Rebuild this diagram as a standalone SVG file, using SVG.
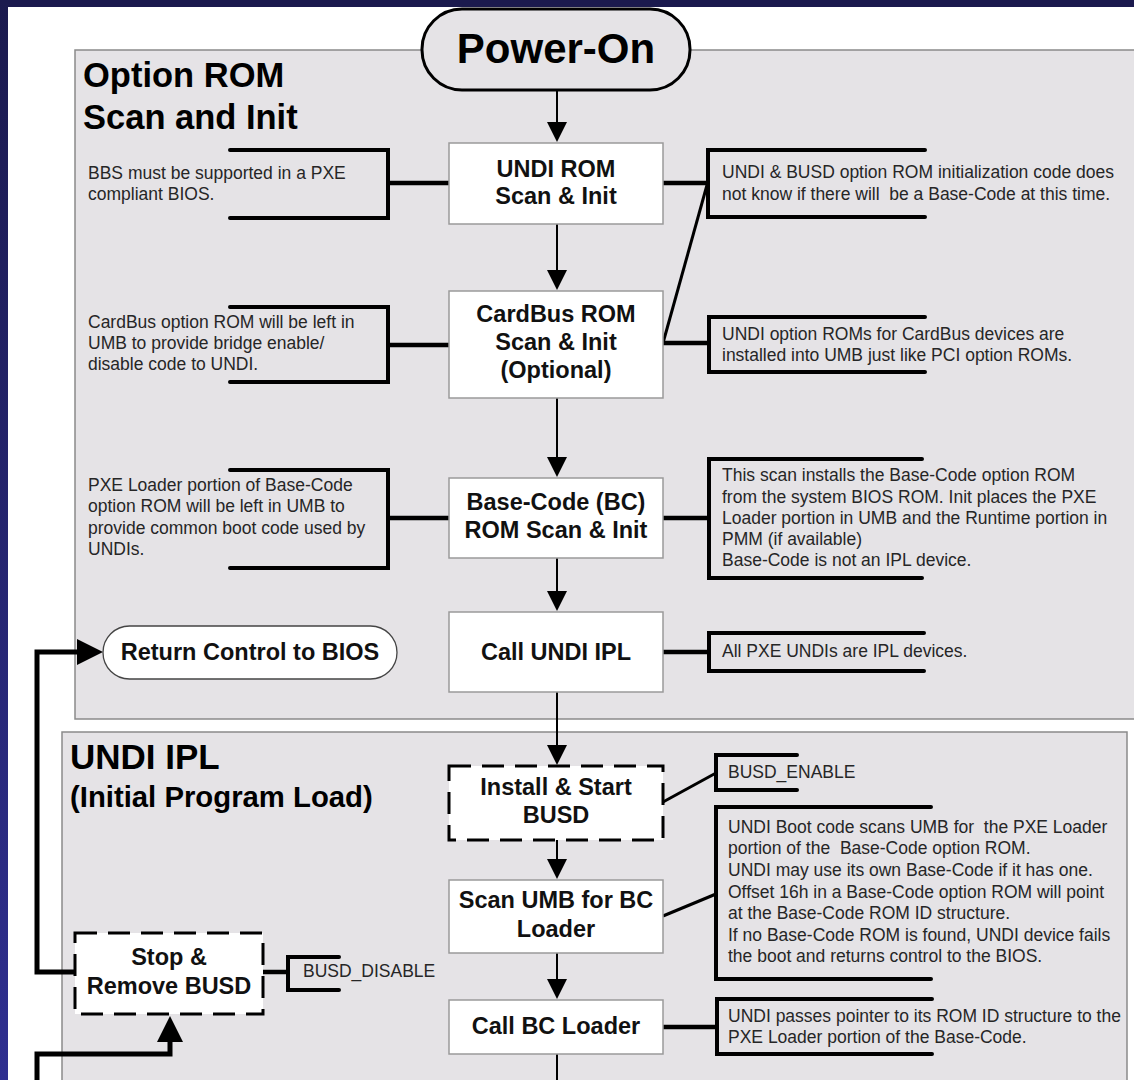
<svg xmlns="http://www.w3.org/2000/svg" width="1134" height="1080" viewBox="0 0 1134 1080">
  <defs>
    <linearGradient id="sideGrad" x1="0" y1="0" x2="0" y2="1">
      <stop offset="0" stop-color="#1b1a4e"/>
      <stop offset="1" stop-color="#2f2f90"/>
    </linearGradient>
    <marker id="ah" viewBox="0 0 20 20" refX="1" refY="10" markerWidth="20" markerHeight="20" markerUnits="userSpaceOnUse" orient="auto">
      <path d="M0,0 L20,10 L0,20 Z" fill="#000"/>
    </marker>
    <marker id="ahb" viewBox="0 0 26 26" refX="1" refY="13" markerWidth="26" markerHeight="26" markerUnits="userSpaceOnUse" orient="auto">
      <path d="M0,0 L26,13 L0,26 Z" fill="#000"/>
    </marker>
    <style>
      .section { fill: #e5e3e6; stroke: #8a8a8a; stroke-width: 1.5; }
      .box { fill: #ffffff; stroke: #9a9a9a; stroke-width: 1.5; }
      .dbox { fill: #ffffff; stroke: #000; stroke-width: 3; stroke-dasharray: 22 11; }
      .btxt { font-family: "Liberation Sans", Arial, sans-serif; font-weight: bold; font-size: 23.5px; fill: #111; text-anchor: middle; }
      .note { font-family: "Liberation Sans", Arial, sans-serif; font-size: 17.5px; fill: #262626; white-space: pre; }
      .title { font-family: "Liberation Sans", Arial, sans-serif; font-weight: bold; fill: #000; }
      .flow { fill: none; stroke: #000; stroke-width: 2; }
      .brk { fill: none; stroke: #000; stroke-width: 4; stroke-linecap: round; stroke-linejoin: miter; }
      .stub { fill: none; stroke: #000; stroke-width: 4.5; }
      .diag { fill: none; stroke: #000; stroke-width: 3; }
      .fb { fill: none; stroke: #000; stroke-width: 5; }
    </style>
  </defs>

  <!-- frame -->
  <rect x="0" y="0" width="1134" height="1080" fill="#ffffff"/>
  <rect x="0" y="0" width="1134" height="7" fill="#1b1a4e"/>
  <rect x="0" y="0" width="8" height="1080" fill="url(#sideGrad)"/>

  <!-- sections -->
  <g id="section-option-rom">
    <rect class="section" x="75" y="50" width="1075" height="669"/>
    <text class="title" x="83" y="87" font-size="34.5">Option ROM</text>
    <text class="title" x="83" y="129" font-size="34.5">Scan and Init</text>
  </g>
  <g id="section-undi-ipl">
    <rect class="section" x="62" y="732" width="1065" height="400"/>
    <text class="title" x="70" y="769" font-size="35">UNDI IPL</text>
    <text class="title" x="70" y="807" font-size="29.3">(Initial Program Load)</text>
  </g>

  <!-- connectors -->
  <g id="connectors">
    <path class="flow" d="M557,90 V123" marker-end="url(#ah)"/>
    <path class="flow" d="M557,224 V271" marker-end="url(#ah)"/>
    <path class="flow" d="M557,398 V458" marker-end="url(#ah)"/>
    <path class="flow" d="M557,558 V592" marker-end="url(#ah)"/>
    <path class="flow" d="M557,692 V746" marker-end="url(#ah)"/>
    <path class="flow" d="M557,840 V860" marker-end="url(#ah)"/>
    <path class="flow" d="M557,953 V980" marker-end="url(#ah)"/>
    <path class="flow" d="M557,1054 V1080"/>
    <path class="fb" d="M75,972 H37 V652 H78" marker-end="url(#ahb)"/>
    <path class="fb" d="M37,1082 V1054 H170 V1041" marker-end="url(#ahb)"/>

    <path class="stub" d="M388,183 H449"/>
    <path class="stub" d="M388,345 H449"/>
    <path class="stub" d="M388,518 H449"/>
    <path class="stub" d="M663,183 H708"/>
    <path class="diag" d="M707,185 L663,343"/>
    <path class="stub" d="M663,343 H709"/>
    <path class="stub" d="M663,518 H709"/>
    <path class="stub" d="M663,652 H709"/>
    <path class="diag" d="M663,802 L716,773"/>
    <path class="diag" d="M663,916 L716,894"/>
    <path class="stub" d="M663,1027 H717"/>
    <path class="stub" d="M263,972 H288"/>
  </g>

  <!-- flow nodes -->
  <g id="power-on">
    <rect x="422" y="9" width="268" height="81" rx="40" ry="40" fill="#e5e3e6" stroke="#000" stroke-width="3"/>
    <text class="title" x="556" y="63" font-size="42" text-anchor="middle">Power-On</text>
  </g>
  <g id="undi-rom-scan">
    <rect class="box" x="449" y="143" width="214" height="81"/>
    <text class="btxt" x="556" y="177">UNDI ROM</text>
    <text class="btxt" x="556" y="204">Scan &amp; Init</text>
  </g>
  <g id="cardbus-rom-scan">
    <rect class="box" x="449" y="291" width="214" height="107"/>
    <text class="btxt" x="556" y="322">CardBus ROM</text>
    <text class="btxt" x="556" y="350">Scan &amp; Init</text>
    <text class="btxt" x="556" y="378">(Optional)</text>
  </g>
  <g id="base-code-rom-scan">
    <rect class="box" x="449" y="478" width="214" height="80"/>
    <text class="btxt" x="556" y="510">Base-Code (BC)</text>
    <text class="btxt" x="556" y="538">ROM Scan &amp; Init</text>
  </g>
  <g id="call-undi-ipl">
    <rect class="box" x="449" y="612" width="214" height="80"/>
    <text class="btxt" x="556" y="660">Call UNDI IPL</text>
  </g>
  <g id="return-control">
    <rect x="103" y="626" width="294" height="53" rx="26.5" ry="26.5" fill="#ffffff" stroke="#444" stroke-width="1.3"/>
    <text class="btxt" x="250" y="660">Return Control to BIOS</text>
  </g>
  <g id="install-start-busd">
    <rect class="dbox" x="449" y="766" width="214" height="74"/>
    <text class="btxt" x="556" y="795">Install &amp; Start</text>
    <text class="btxt" x="556" y="823">BUSD</text>
  </g>
  <g id="scan-umb">
    <rect class="box" x="449" y="880" width="214" height="73"/>
    <text class="btxt" x="556" y="908">Scan UMB for BC</text>
    <text class="btxt" x="556" y="937">Loader</text>
  </g>
  <g id="call-bc-loader">
    <rect class="box" x="449" y="1000" width="214" height="54"/>
    <text class="btxt" x="556" y="1034">Call BC Loader</text>
  </g>
  <g id="stop-remove-busd">
    <rect class="dbox" x="75" y="933" width="188" height="81"/>
    <text class="btxt" x="169" y="965">Stop &amp;</text>
    <text class="btxt" x="169" y="994">Remove BUSD</text>
  </g>

  <!-- annotation notes -->
  <g id="note-bbs">
    <path class="brk" d="M230,150 H388 V218 H230"/>
    <text class="note" x="88" y="179">BBS must be supported in a PXE</text>
    <text class="note" x="88" y="200">compliant BIOS.</text>
  </g>
  <g id="note-cardbus-left">
    <path class="brk" d="M230,307 H388 V382 H230"/>
    <text class="note" x="88" y="328">CardBus option ROM will be left in</text>
    <text class="note" x="88" y="349">UMB to provide bridge enable/</text>
    <text class="note" x="88" y="370">disable code to UNDI.</text>
  </g>
  <g id="note-pxe-loader-left">
    <path class="brk" d="M230,470 H388 V568 H230"/>
    <text class="note" x="88" y="491">PXE Loader portion of Base-Code</text>
    <text class="note" x="88" y="512">option ROM will be left in UMB to</text>
    <text class="note" x="88" y="534">provide common boot code used by</text>
    <text class="note" x="88" y="555">UNDIs.</text>
  </g>
  <g id="note-undi-busd">
    <path class="brk" d="M925,150 H708 V217 H925"/>
    <text class="note" x="722" y="178">UNDI &amp; BUSD option ROM initialization code does</text>
    <text class="note" x="722" y="200" xml:space="preserve">not know if there will  be a Base-Code at this time.</text>
  </g>
  <g id="note-undi-cardbus">
    <path class="brk" d="M925,317 H709 V372 H925"/>
    <text class="note" x="722" y="340">UNDI option ROMs for CardBus devices are</text>
    <text class="note" x="722" y="361">installed into UMB just like PCI option ROMs.</text>
  </g>
  <g id="note-base-code-scan">
    <path class="brk" d="M922,459 H709 V578 H922"/>
    <text class="note" x="722" y="481">This scan installs the Base-Code option ROM</text>
    <text class="note" x="722" y="503">from the system BIOS ROM. Init places the PXE</text>
    <text class="note" x="722" y="524">Loader portion in UMB and the Runtime portion in</text>
    <text class="note" x="722" y="545">PMM (if available)</text>
    <text class="note" x="722" y="566">Base-Code is not an IPL device.</text>
  </g>
  <g id="note-ipl-devices">
    <path class="brk" d="M924,633 H709 V671 H924"/>
    <text class="note" x="722" y="657">All PXE UNDIs are IPL devices.</text>
  </g>
  <g id="note-busd-enable">
    <path class="brk" d="M797,755 H716 V790 H797"/>
    <text class="note" x="728" y="778">BUSD_ENABLE</text>
  </g>
  <g id="note-scan-umb">
    <path class="brk" d="M931,807 H716 V979 H931"/>
    <text class="note" x="728" y="833" xml:space="preserve">UNDI Boot code scans UMB for  the PXE Loader</text>
    <text class="note" x="728" y="854" xml:space="preserve">portion of the  Base-Code option ROM.</text>
    <text class="note" x="728" y="876">UNDI may use its own Base-Code if it has one.</text>
    <text class="note" x="728" y="898">Offset 16h in a Base-Code option ROM will point</text>
    <text class="note" x="728" y="919">at the Base-Code ROM ID structure.</text>
    <text class="note" x="728" y="941">If no Base-Code ROM is found, UNDI device fails</text>
    <text class="note" x="728" y="962">the boot and returns control to the BIOS.</text>
  </g>
  <g id="note-bc-loader">
    <path class="brk" d="M932,999 H717 V1054 H932" stroke-width="5"/>
    <text class="note" x="728" y="1022">UNDI passes pointer to its ROM ID structure to the</text>
    <text class="note" x="728" y="1043">PXE Loader portion of the Base-Code.</text>
  </g>
  <g id="note-busd-disable">
    <path class="brk" d="M339,957 H288 V990 H339"/>
    <text class="note" x="303" y="977">BUSD_DISABLE</text>
  </g>
</svg>
